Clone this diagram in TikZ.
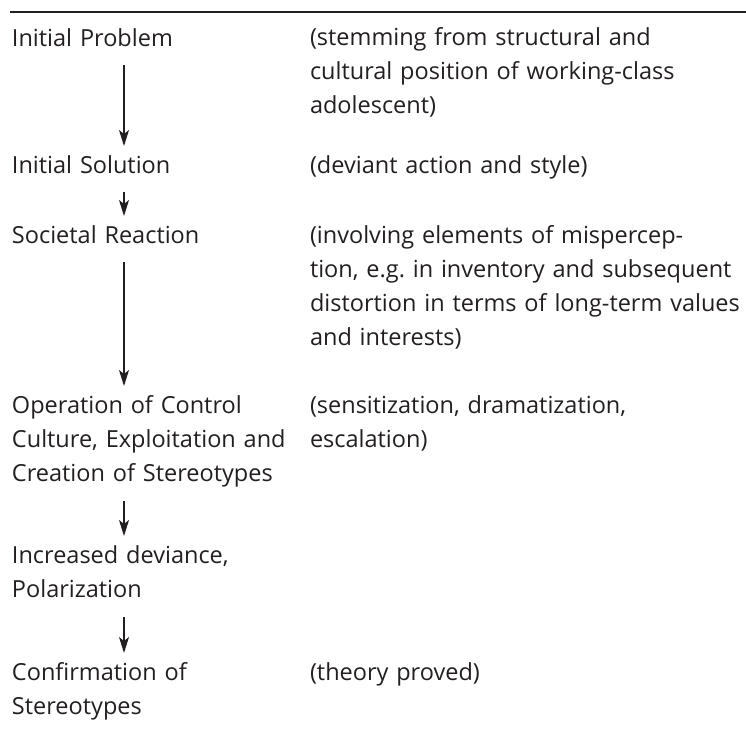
\documentclass[tikz,border=0pt]{standalone}
\usepackage{fontspec}
\setmainfont{Open Sans}
\usetikzlibrary{arrows.meta}
\definecolor{ink}{HTML}{231F20}
\newcommand\tline[1]{\strut#1}
\frenchspacing
\begin{document}
\begin{tikzpicture}[x=1pt,y=-1pt,
  txt/.style={anchor=base west, inner sep=0pt, outer sep=0pt, align=left,
    text width=#1, text=ink, font=\fontsize{23.5}{34.3}\selectfont\frenchspacing},
  txt/.default=300pt,
  flow/.style={draw=ink, line width=1.3pt,
    -{Stealth[length=16pt,width=10pt,inset=4pt]},
    shorten <=9pt, shorten >=3pt}]
\useasboundingbox (0,0) rectangle (746,732);
\draw[ink, line width=2pt] (10,12) -- (746,12);

% left column
\node[txt] (p) at (12,46) {\tline{Initial Problem}};
\node[txt] (s) at (12,173) {\tline{Initial Solution}};
\node[txt] (r) at (12,243) {\tline{Societal Reaction}};
\node[txt] (o) at (12,413) {\tline{Operation of Control}\\\tline{Culture, Exploitation and}\\\tline{Creation of Stereotypes}};
\node[txt] (i) at (12,563) {\tline{Increased deviance,}\\\tline{Polarization}};
\node[txt] (c) at (12,680) {\tline{Confirmation of}\\\tline{Stereotypes}};

% right column
\node[txt=460pt] (pq) at (310,45) {\tline{(stemming from structural and}\\\tline{cultural position of working-class}\\\tline{adolescent)}};
\node[txt=460pt] (sq) at (310,173) {\tline{(deviant action and style)}};
\node[txt=460pt] (rq) at (310,243) {\tline{(involving elements of mispercep-}\\\tline{tion, e.g. in inventory and subsequent}\\\tline{distortion in terms of long-term values}\\\tline{and interests)}};
\node[txt=460pt] (oq) at (310,413) {\tline{(sensitization, dramatization,}\\\tline{escalation)}};
\node[txt=460pt] (cq) at (310,680) {\tline{(theory proved)}};

% arrows
\coordinate (ax) at (124,0);
\draw[flow] (p.south -| ax) -- (s.north -| ax);
\draw[flow] (s.south -| ax) -- (r.north -| ax);
\draw[flow] (r.south -| ax) -- (o.north -| ax);
\draw[flow] (o.south -| ax) -- (i.north -| ax);
\draw[flow] (i.south -| ax) -- (c.north -| ax);
\end{tikzpicture}
\end{document}
